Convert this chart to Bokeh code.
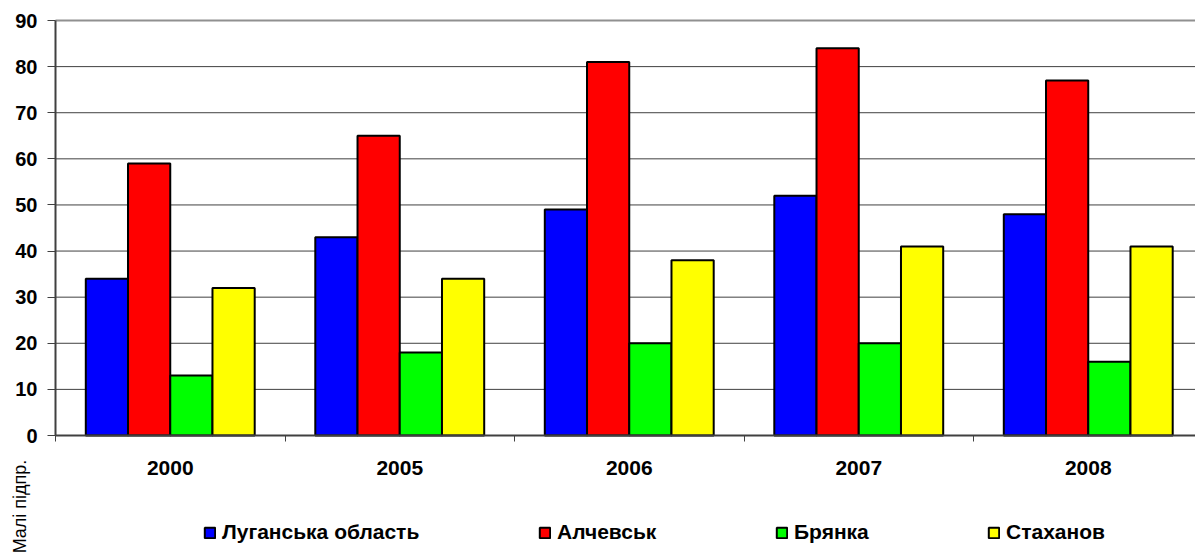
import math
from bokeh.plotting import figure
from bokeh.models import Range1d, FixedTicker, ColumnDataSource, Legend, LegendItem, Label
from bokeh.transform import dodge
from bokeh.embed import file_html
from bokeh.resources import INLINE

# ---- data ----
years = ["2000", "2005", "2006", "2007", "2008"]
series_names = ["Луганська область", "Алчевськ", "Брянка", "Стаханов"]
luhansk = [34, 43, 49, 52, 48]
alchevsk = [59, 65, 81, 84, 77]
brianka = [13, 18, 20, 20, 16]
stakhanov = [32, 34, 38, 41, 41]
y_ticks = [0, 10, 20, 30, 40, 50, 60, 70, 80, 90]
y_label = "Малі підпр."

colors = ["#0000FF", "#FF0000", "#00FF00", "#FFFF00"]
FONT = "Liberation Sans"

# ---- layout constants (pixels) ----
W, H = 1195, 556
LEFT, TOP = 55, 20          # pixel column of the y axis / row of the top value
ZERO_Y = 435                # pixel row of value 0
CAT_PX = 229.5              # width of one category in pixels
px_per_unit = (ZERO_Y - TOP) / (y_ticks[-1] - y_ticks[0])
y_bottom = -(H - ZERO_Y) / px_per_unit
y_top = y_ticks[-1] + TOP / px_per_unit
x_start = -LEFT / CAT_PX
x_end = (W - LEFT) / CAT_PX

xpos = [i + 0.5 for i in range(len(years))]
keys = ["s0", "s1", "s2", "s3"]
source = ColumnDataSource(dict(x=xpos, s0=luhansk, s1=alchevsk, s2=brianka, s3=stakhanov))

p = figure(width=W, height=H,
           x_range=Range1d(x_start, x_end), y_range=Range1d(y_bottom, y_top),
           output_backend="svg", toolbar_location=None,
           min_border_left=0, min_border_right=0, min_border_top=0, min_border_bottom=0)
p.outline_line_color = None
p.background_fill_color = "white"
p.border_fill_color = "white"
p.xgrid.visible = False
p.ygrid.visible = False

# horizontal gridlines at the y ticks, starting at the y axis
grid_colors = ["#404040"] * (len(y_ticks) - 1) + ["#909090"]
grid_widths = [1] * (len(y_ticks) - 1) + [2]
p.segment(x0=0, x1=x_end, y0=y_ticks, y1=y_ticks, line_color=grid_colors, line_width=grid_widths)

w = 0.184
renderers = []
for k, (key, col) in enumerate(zip(keys, colors)):
    r = p.vbar(x=dodge("x", (k - 1.5) * w), top=key, width=w, source=source,
               fill_color=col, line_color="black", line_width=2)
    renderers.append(r)

# y axis drawn at x = 0
p.yaxis.fixed_location = 0
p.yaxis.ticker = FixedTicker(ticks=y_ticks)
p.yaxis.bounds = (y_ticks[0], y_ticks[-1])
p.yaxis.major_tick_out = 8
p.yaxis.major_tick_in = 0
p.yaxis.minor_tick_out = 0
p.yaxis.minor_tick_in = 0
p.yaxis.axis_line_color = "#404040"
p.yaxis.axis_line_width = 2
p.yaxis.major_tick_line_color = "#404040"
p.yaxis.major_label_text_font = FONT
p.yaxis.major_label_text_font_style = "bold"
p.yaxis.major_label_text_font_size = "20px"
p.yaxis.major_label_text_color = "black"
p.yaxis.major_label_standoff = 10

# x axis drawn at value 0: labels at centers, ticks at boundaries
p.xaxis.fixed_location = 0
p.xaxis.bounds = (0, x_end)
p.xaxis.ticker = FixedTicker(ticks=xpos, minor_ticks=list(range(len(years) + 1)))
p.xaxis.major_label_overrides = {x: y for x, y in zip(xpos, years)}
p.xaxis.major_tick_out = 0
p.xaxis.major_tick_in = 0
p.xaxis.minor_tick_out = 6
p.xaxis.minor_tick_in = 0
p.xaxis.minor_tick_line_color = "#404040"
p.xaxis.axis_line_color = "#404040"
p.xaxis.axis_line_width = 2
p.xaxis.major_label_text_font = FONT
p.xaxis.major_label_text_font_style = "bold"
p.xaxis.major_label_text_font_size = "21px"
p.xaxis.major_label_text_color = "black"
p.xaxis.major_label_standoff = 19

# rotated y label at the bottom-left
p.add_layout(Label(x=19, y=50, x_units="screen", y_units="screen", text=y_label,
                   angle=math.pi / 2, text_font=FONT, text_font_size="18px",
                   text_align="center", text_baseline="middle", text_color="black"))

# one legend per series, below the x-axis labels
leg_x = [203, 538, 775, 987]
for name, r, lx in zip(series_names, renderers, leg_x):
    lg = Legend(items=[LegendItem(label=name, renderers=[r])], location=(lx, 12),
                orientation="horizontal", glyph_width=13, glyph_height=13,
                label_standoff=6, padding=0, margin=0, spacing=0,
                border_line_color=None, background_fill_alpha=0,
                label_text_font=FONT, label_text_font_style="bold",
                label_text_font_size="21px", label_text_color="black")
    p.add_layout(lg)

open("out.html", "w").write(file_html(p, INLINE))
